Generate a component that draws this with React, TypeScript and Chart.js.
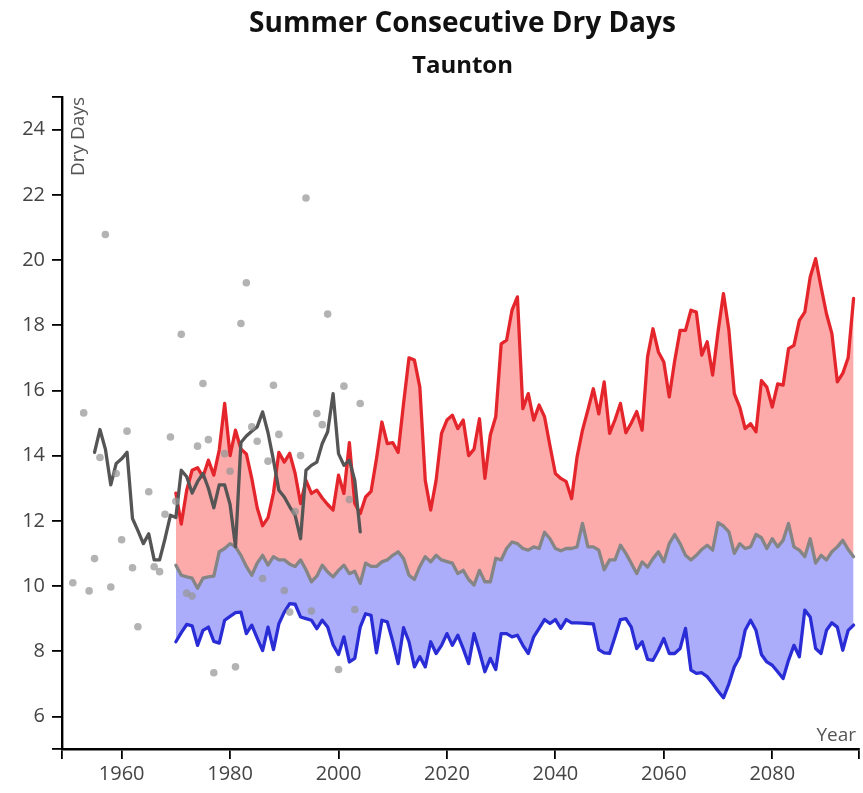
import React, { useEffect, useRef } from "react";
import { Chart, registerables } from "chart.js";

Chart.register(...registerables);

const TITLE = "Summer Consecutive Dry Days";
const SUBTITLE = "Taunton";
const Y_TITLE = "Dry Days";
const X_TITLE = "Year";

const X_TICKS = [1960, 1980, 2000, 2020, 2040, 2060, 2080];
const Y_TICKS = [6, 8, 10, 12, 14, 16, 18, 20, 22, 24];
const X_MIN = 1949;
const X_MAX = 2096;
const Y_MIN = 5;
const Y_MAX = 25;

// projections, 1970 - 2095
const PROJ_START = 1970;
const upperValues = [
  12.85, 11.9, 12.94, 13.55, 13.63, 13.35, 13.86, 13.4, 14.17, 15.6,
  14.0, 14.78, 14.2, 14.05, 13.3, 12.4, 11.85, 12.1, 12.85, 14.1,
  13.8, 14.07, 13.45, 12.53, 13.24, 12.84, 12.94, 12.7, 12.5, 12.33,
  13.4, 12.84, 14.4, 12.53, 12.22, 12.73, 12.9, 13.9, 15.03, 14.37,
  14.4, 14.1, 15.6, 17.0, 16.93, 16.1, 13.24, 12.33, 13.24, 14.68,
  15.09, 15.24, 14.83, 15.09, 14.0, 14.2, 15.13, 13.3, 14.63, 15.19,
  17.43, 17.54, 18.46, 18.87, 15.44, 15.9, 15.09, 15.55, 15.19, 14.3,
  13.45, 13.3, 13.2, 12.68, 13.96, 14.78, 15.4, 16.05, 15.28, 16.26,
  14.68, 15.1, 15.6, 14.7, 15.0, 15.35, 14.78, 17.03, 17.89, 17.18,
  16.87, 15.8, 16.9, 17.84, 17.84, 18.46, 18.4, 17.08, 17.49, 16.47,
  17.8, 18.97, 17.85, 15.9, 15.49, 14.83, 14.98, 14.73, 16.3, 16.1,
  15.49, 16.2, 16.16, 17.28, 17.38, 18.15, 18.4, 19.48, 20.04, 19.17,
  18.35, 17.74, 16.26, 16.52, 17.0, 18.82,
];
const medianValues = [
  10.64, 10.33, 10.28, 10.24, 9.93, 10.24, 10.28, 10.3, 11.05, 11.15,
  11.3, 11.2, 10.94, 10.6, 10.33, 10.7, 10.94, 10.64, 10.9, 10.8,
  10.8, 10.67, 10.6, 10.8, 10.5, 10.13, 10.3, 10.64, 10.43, 10.28,
  10.48, 10.64, 10.38, 10.45, 10.08, 10.7, 10.6, 10.6, 10.74, 10.8,
  10.94, 11.05, 10.84, 10.33, 10.2, 10.6, 10.9, 10.74, 10.94, 10.8,
  10.75, 10.7, 10.38, 10.48, 10.2, 10.03, 10.48, 10.13, 10.13, 10.85,
  10.8, 11.15, 11.35, 11.3, 11.15, 11.1, 11.2, 11.15, 11.65, 11.45,
  11.15, 11.08, 11.15, 11.15, 11.2, 11.92, 11.2, 11.2, 11.1, 10.5,
  10.8, 10.8, 11.25, 11.0, 10.7, 10.38, 10.74, 10.58, 10.84, 11.05,
  10.74, 11.3, 11.58, 11.3, 10.94, 10.8, 10.94, 11.12, 11.25, 11.1,
  11.94, 11.84, 11.66, 11.0, 11.3, 11.15, 11.2, 11.58, 11.48, 11.15,
  11.45, 11.2, 11.4, 11.92, 11.2, 11.1, 10.9, 11.45, 10.7, 10.94,
  10.8, 11.05, 11.2, 11.4, 11.12, 10.9,
];
const lowerValues = [
  8.29, 8.57, 8.82, 8.78, 8.18, 8.64, 8.74, 8.3, 8.25, 8.95,
  9.07, 9.18, 9.2, 8.54, 8.8, 8.4, 8.02, 8.74, 8.05, 8.84,
  9.2, 9.46, 9.44, 9.05, 9.0, 8.95, 8.69, 8.95, 8.74, 8.2,
  7.9, 8.44, 7.67, 7.78, 8.74, 9.15, 9.1, 7.95, 8.95, 8.9,
  8.3, 7.62, 8.72, 8.29, 7.52, 7.83, 7.52, 8.29, 7.93, 8.18,
  8.54, 8.18, 8.49, 8.08, 7.62, 8.54, 7.98, 7.37, 7.78, 7.44,
  8.54, 8.54, 8.44, 8.49, 8.18, 7.93, 8.44, 8.7, 8.97, 8.85,
  8.97, 8.7, 8.97, 8.87, 8.87, 8.86, 8.85, 8.84, 8.05, 7.95,
  7.93, 8.44, 8.97, 9.0, 8.74, 8.08, 8.29, 7.75, 7.72, 8.03,
  8.39, 7.93, 7.93, 8.08, 8.7, 7.42, 7.32, 7.34, 7.22, 7.01,
  6.78, 6.57, 7.0, 7.52, 7.83, 8.64, 8.95, 8.64, 7.9, 7.67,
  7.57, 7.37, 7.16, 7.72, 8.18, 7.83, 9.26, 9.05, 8.08, 7.93,
  8.64, 8.87, 8.74, 8.03, 8.64, 8.8,
];

// observed smoothed line, 1955 - 2004
const OBS_START = 1955;
const observedLine = [
  14.1, 14.8, 14.2, 13.1, 13.76,
  13.9, 14.1, 12.07, 11.7, 11.3, 11.6, 10.8, 10.8, 11.45, 12.17,
  12.1, 13.55, 13.35, 12.85, 13.2, 13.45, 13.0, 12.4, 13.1, 13.1,
  12.5, 11.2, 14.4, 14.6, 14.75, 14.88, 15.34, 14.7, 13.86, 12.94,
  12.73, 12.43, 12.17, 11.45, 13.55, 13.7, 13.8, 14.37, 14.73, 15.9,
  14.06, 13.7, 13.86, 13.24, 11.66,
];

// observed annual values (visible points)
const obsYears = [
  1951, 1953, 1954, 1955, 1956, 1957, 1958, 1959, 1960, 1961, 1962, 1963,
  1965, 1966, 1967, 1968, 1969, 1970, 1971, 1972, 1973, 1974, 1975, 1976, 1977,
  1979, 1980, 1981, 1982, 1983, 1984, 1985, 1986, 1987, 1988, 1989, 1990,
  1991, 1992, 1993, 1994, 1995, 1996, 1997, 1998, 2000, 2001, 2002, 2003, 2004,
];
const obsValues = [
  10.1, 15.31, 9.85, 10.84, 13.94, 20.78, 9.97, 13.45, 11.42, 14.75, 10.56, 8.75,
  12.89, 10.59, 10.44, 12.2, 14.57, 12.6, 17.72, 9.78, 9.69, 14.29, 16.21, 14.49, 7.34,
  14.06, 13.52, 7.52, 18.05, 19.3, 14.88, 14.44, 10.23, 13.83, 16.16, 14.65, 9.86,
  9.2, 12.28, 14.0, 21.9, 9.23, 15.29, 14.95, 18.34, 7.44, 16.13, 12.65, 9.28, 15.6,
];

const FONT = '"Open Sans", "Noto Sans", sans-serif';

const series = (start: number, vals: number[]) =>
  vals.map((v, i) => ({ x: start + i, y: v }));

const textPlugin = {
  id: "texts",
  afterDraw(chart: any) {
    const { ctx, chartArea } = chart;
    const cx = (chartArea.left + chartArea.right) / 2 + 2;
    ctx.save();
    ctx.fillStyle = "#111";
    ctx.textAlign = "center";
    ctx.textBaseline = "alphabetic";
    ctx.font = `700 28px ${FONT}`;
    ctx.fillText(TITLE, cx, 32);
    ctx.font = `700 24px ${FONT}`;
    ctx.fillText(SUBTITLE, cx, 73);

    ctx.fillStyle = "#555";
    ctx.save();
    ctx.translate(84, chartArea.top);
    ctx.rotate(-Math.PI / 2);
    ctx.textAlign = "right";
    ctx.font = `19px ${FONT}`;
    ctx.fillText(Y_TITLE, 0, 0);
    ctx.restore();

    ctx.textAlign = "right";
    ctx.font = `19px ${FONT}`;
    ctx.fillText(X_TITLE, chartArea.right - 3, chartArea.bottom - 8);
    ctx.restore();
  },
};

const lineStyle = {
  borderWidth: 3.3,
  borderJoinStyle: "round" as const,
  borderCapStyle: "round" as const,
  pointRadius: 0,
  tension: 0,
};

export default function App() {
  const ref = useRef<HTMLCanvasElement | null>(null);

  useEffect(() => {
    if (!ref.current) return;
    const chart = new Chart(ref.current, {
      type: "line",
      data: {
        datasets: [
          {
            type: "scatter",
            label: "Observed",
            data: obsYears.map((y, i) => ({ x: y, y: obsValues[i] })),
            backgroundColor: "rgba(150,150,150,0.72)",
            borderWidth: 0,
            pointRadius: 3.8,
            showLine: false,
          } as any,
          {
            label: "Observed smoothed",
            data: series(OBS_START, observedLine),
            borderColor: "#555555",
            fill: false,
            ...lineStyle,
          },
          {
            label: "Upper",
            data: series(PROJ_START, upperValues),
            borderColor: "#e4262c",
            backgroundColor: "#fdaaaa",
            fill: "+1",
            ...lineStyle,
          },
          {
            label: "Median",
            data: series(PROJ_START, medianValues),
            borderColor: "#858585",
            backgroundColor: "#abadfa",
            fill: "+1",
            ...lineStyle,
          },
          {
            label: "Lower",
            data: series(PROJ_START, lowerValues),
            borderColor: "#2a2dd6",
            fill: false,
            ...lineStyle,
          },
        ],
      },
      options: {
        responsive: false,
        animation: false,
        events: [],
        layout: { padding: { top: 97, right: 3, left: 0, bottom: 0 } },
        plugins: {
          legend: { display: false },
          tooltip: { enabled: false },
          title: { display: false },
          filler: { drawTime: "beforeDatasetsDraw" },
        } as any,
        scales: {
          x: {
            type: "linear",
            min: X_MIN,
            max: X_MAX,
            afterBuildTicks: (s: any) => {
              s.ticks = [X_MIN, ...X_TICKS, X_MAX].map((v) => ({ value: v }));
            },
            afterFit: (s: any) => {
              s.height = 44;
            },
            grid: {
              drawOnChartArea: false,
              drawTicks: true,
              tickLength: 10,
              color: "#000",
              lineWidth: 1.8,
            },
            border: { display: true, color: "#000", width: 2.4 },
            ticks: {
              autoSkip: false,
              maxRotation: 0,
              padding: 3,
              color: "#444",
              font: { family: FONT, size: 20 },
              callback: (v: any) => (X_TICKS.includes(v) ? String(v) : ""),
            },
          },
          y: {
            type: "linear",
            min: Y_MIN,
            max: Y_MAX,
            afterBuildTicks: (s: any) => {
              s.ticks = [Y_MIN, ...Y_TICKS, Y_MAX].map((v) => ({ value: v }));
            },
            afterFit: (s: any) => {
              s.width = 62;
            },
            grid: {
              drawOnChartArea: false,
              drawTicks: true,
              tickLength: 10,
              color: "#000",
              lineWidth: 1.8,
            },
            border: { display: true, color: "#000", width: 2.4 },
            ticks: {
              autoSkip: false,
              padding: 7,
              color: "#444",
              font: { family: FONT, size: 20 },
              callback: (v: any) => (Y_TICKS.includes(v) ? String(v) : ""),
            },
          },
        },
      },
      plugins: [textPlugin],
    });
    return () => chart.destroy();
  }, []);

  return (
    <div style={{ position: "fixed", left: 0, top: 0, width: 863, height: 793, background: "#fff" }}>
      <canvas ref={ref} width={863} height={793} style={{ display: "block" }} />
    </div>
  );
}
